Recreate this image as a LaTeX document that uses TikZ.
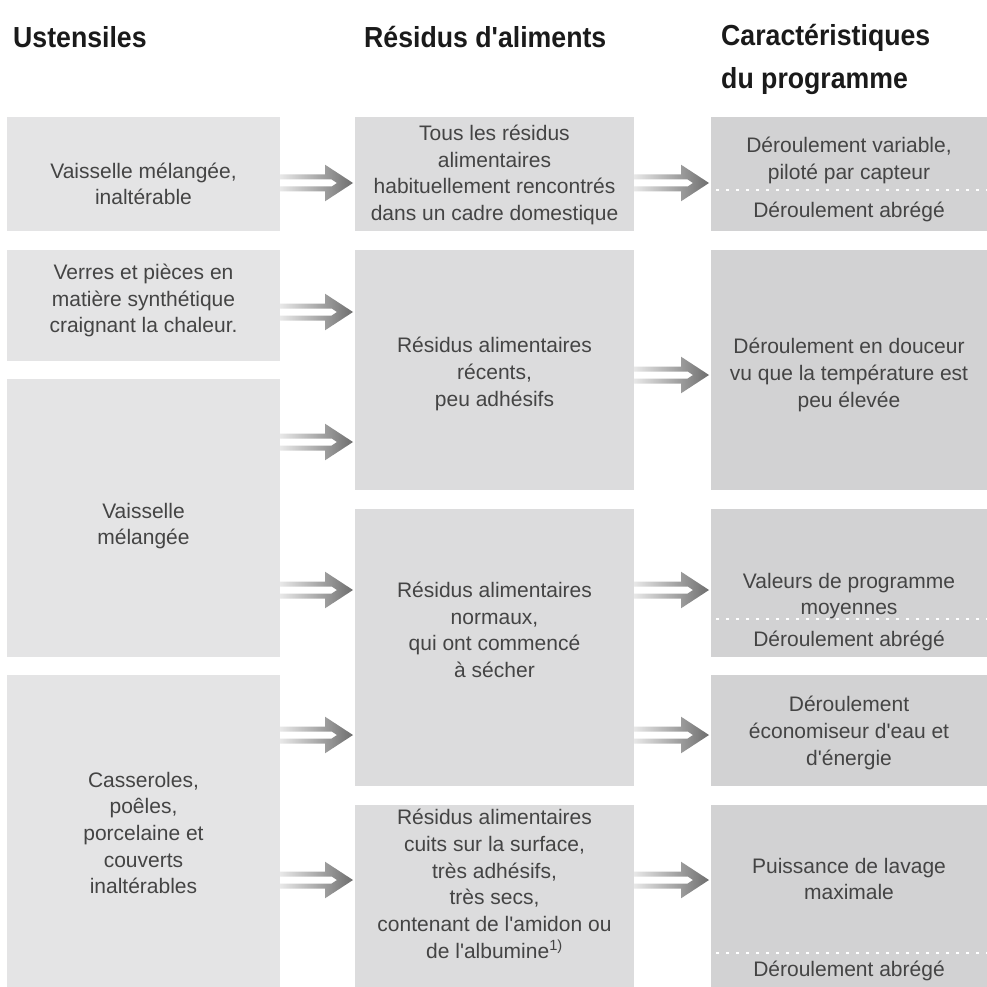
\documentclass[tikz,border=0pt]{standalone}
\usepackage{fontspec}
\setmainfont{Liberation Sans}
\newfontfamily\bodyfont{Liberation Sans}
\newfontfamily\hdfont{Liberation Sans}[FakeStretch=0.92]
\usetikzlibrary{calc}
\definecolor{boxL}{HTML}{E4E4E5}
\definecolor{boxM}{HTML}{DCDCDD}
\definecolor{boxR}{HTML}{D2D2D3}
\definecolor{txtc}{HTML}{444444}
\definecolor{hdc}{HTML}{1A1A1A}
\definecolor{arrA}{HTML}{E8E8E8}
\definecolor{arrB}{HTML}{6E6E6E}
\newcommand\darrow[3]{%
  \shade[left color=arrA, right color=arrB]
  let \p1=(#2.east|-0,#1), \p2=($(#3.west|-0,#1)+(-2,0)$) in
  (\x1,{\y1+8.5pt}) -- ({\x2-28pt},{\y1+8.5pt}) -- ({\x2-28pt},{\y1+18.3pt})
  -- (\x2,\y1) -- ({\x2-28pt},{\y1-18.3pt}) -- ({\x2-28pt},{\y1-8.5pt})
  -- (\x1,{\y1-8.5pt}) -- (\x1,{\y1-3.5pt}) -- ({\x2-21.35pt},{\y1-3.5pt})
  -- ({\x2-16pt},\y1) -- ({\x2-21.35pt},{\y1+3.5pt}) -- (\x1,{\y1+3.5pt}) -- cycle;}
\begin{document}
\begin{tikzpicture}[x=1pt,y=-1pt,
  bx/.style={inner sep=0pt, outer sep=0pt, draw=none},
  tx/.style={inner sep=0pt, text=txtc, align=center, font=\bodyfont\fontsize{21}{26.7}\selectfont},
  hd/.style={inner sep=0pt, text=hdc, align=left, font=\hdfont\bfseries\fontsize{29}{43}\selectfont},
  dotline/.style={white, line width=2.6pt, dash pattern=on 2.6pt off 7.4pt}]
\useasboundingbox[fill=white] (0,0) rectangle (987,987);
% headers
\node[hd, anchor=base west] (h1) at (13,48) {Ustensiles};
\node[hd, anchor=base west] (h2) at (364,48) {Résidus d'aliments};
\node[hd, anchor=north west] (h3) at (721,24) {Caractéristiques\\du programme};
% left column
\node[bx, fill=boxL, minimum width=273pt, minimum height=114pt] (L1) at (143.5,174) {};
\node[bx, fill=boxL, minimum width=273pt, minimum height=111pt] (L2) at (143.5,305.5) {};
\node[bx, fill=boxL, minimum width=273pt, minimum height=278pt] (L3) at (143.5,518) {};
\node[bx, fill=boxL, minimum width=273pt, minimum height=312pt] (L4) at (143.5,831) {};
% middle column
\node[bx, fill=boxM, minimum width=279pt, minimum height=114pt] (M1) at (494.5,174) {};
\node[bx, fill=boxM, minimum width=279pt, minimum height=240pt] (M2) at (494.5,370) {};
\node[bx, fill=boxM, minimum width=279pt, minimum height=277pt] (M3) at (494.5,647.5) {};
\node[bx, fill=boxM, minimum width=279pt, minimum height=182pt] (M4) at (494.5,896) {};
% right column
\node[bx, fill=boxR, minimum width=276pt, minimum height=114pt] (R1) at (849,174) {};
\node[bx, fill=boxR, minimum width=276pt, minimum height=240pt] (R2) at (849,370) {};
\node[bx, fill=boxR, minimum width=276pt, minimum height=148pt] (R3) at (849,583) {};
\node[bx, fill=boxR, minimum width=276pt, minimum height=111pt] (R4) at (849,730.5) {};
\node[bx, fill=boxR, minimum width=276pt, minimum height=182pt] (R5) at (849,896) {};
% dotted separators
\draw[dotline] ($(R1.west|-0,190)+(5,0)$) -- (R1.east|-0,190);
\draw[dotline] ($(R3.west|-0,619)+(5,0)$) -- (R3.east|-0,619);
\draw[dotline] ($(R5.west|-0,953)+(5,0)$) -- (R5.east|-0,953);
% texts
\node[tx] (tL1) at (143.5,184) {Vaisselle mélangée,\\inaltérable};
\node[tx] (tL2) at (143.5,300.5) {Verres et pièces en\\matière synthétique\\craignant la chaleur.};
\node[tx] (tL3) at (143.5,526) {Vaisselle\\mélangée};
\node[tx] (tL4) at (143.5,833) {Casseroles,\\poêles,\\porcelaine et\\couverts\\inaltérables};
\node[tx] (tM1) at (494.5,175) {Tous les résidus\\alimentaires\\habituellement rencontrés\\dans un cadre domestique};
\node[tx] (tM2) at (494.5,374) {Résidus alimentaires\\récents,\\peu adhésifs};
\node[tx] (tM3) at (494.5,630) {Résidus alimentaires\\normaux,\\qui ont commencé\\à sécher};
\node[tx] (tM4) at (494.5,884) {Résidus alimentaires\\cuits sur la surface,\\très adhésifs,\\très secs,\\contenant de l'amidon ou\\de l'albumine\textsuperscript{1)}};
\node[tx] (tR1a) at (849,160.5) {Déroulement variable,\\piloté par capteur};
\node[tx] (tR1b) at (849,212) {Déroulement abrégé};
\node[tx] (tR2) at (849,375) {Déroulement en douceur\\vu que la température est\\peu élevée};
\node[tx] (tR3a) at (849,596) {Valeurs de programme\\moyennes};
\node[tx] (tR3b) at (849,641) {Déroulement abrégé};
\node[tx] (tR4) at (849,733) {Déroulement\\économiseur d'eau et\\d'énergie};
\node[tx] (tR5a) at (849,879) {Puissance de lavage\\maximale};
\node[tx] (tR5b) at (849,971) {Déroulement abrégé};
% arrows
\darrow{183}{L1}{M1}
\darrow{312}{L2}{M2}
\darrow{442}{L3}{M2}
\darrow{590}{L3}{M3}
\darrow{735}{L4}{M3}
\darrow{880}{L4}{M4}
\darrow{183}{M1}{R1}
\darrow{375}{M2}{R2}
\darrow{590}{M3}{R3}
\darrow{735}{M3}{R4}
\darrow{880}{M4}{R5}
\end{tikzpicture}
\end{document}
